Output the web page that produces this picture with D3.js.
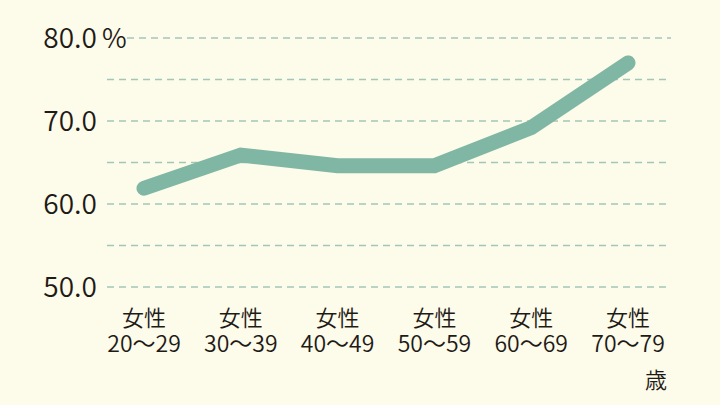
<!DOCTYPE html>
<html>
<head>
    <meta charset="utf-8">
    <title>Line</title>
    <script src="https://cdn.jsdelivr.net/npm/d3@7"></script>
    <style>
        body { margin: 0; background: #fdfbea; }
        text { font-family: "Noto Sans CJK JP", "Noto Sans", sans-serif; fill: #1e1a16; font-weight: 350; }
    </style>
</head>
<body>
    <svg width="720" height="405" id="mainsvg"></svg>
    <script>
        // data
        const groups = ['20〜29', '30〜39', '40〜49', '50〜59', '60〜69', '70〜79'];
        const values = [61.9, 65.9, 64.6, 64.6, 69.2, 77.0];
        const gridValues = [50, 55, 60, 65, 70, 75, 80];
        const tickValues = [50, 60, 70, 80];

        const svg = d3.select('#mainsvg');
        svg.append('rect').attr('width', 720).attr('height', 405).attr('fill', '#fdfbea');

        const xScale = d3.scalePoint().domain(groups).range([144, 628]);
        const yScale = d3.scaleLinear().domain([50, 80]).range([287, 38]);

        // dashed grid
        svg.append('g').selectAll('line').data(gridValues).join('line')
            .attr('x1', d => d === 80 ? 127 : 107)
            .attr('x2', 671)
            .attr('y1', d => yScale(d))
            .attr('y2', d => yScale(d))
            .attr('stroke', '#a3c6b8')
            .attr('stroke-width', 1.5)
            .attr('stroke-dasharray', '7 5');

        // y tick labels
        svg.append('g').selectAll('text').data(tickValues).join('text')
            .attr('x', 97)
            .attr('y', d => yScale(d) + 10)
            .attr('text-anchor', 'end')
            .attr('font-size', 28)
            .text(d => d.toFixed(1));
        svg.append('text')
            .attr('x', 102).attr('y', yScale(80) + 10)
            .attr('font-size', 27)
            .text('%');

        // x labels
        const xl = svg.append('g').selectAll('g').data(groups).join('g')
            .attr('transform', d => `translate(${xScale(d)},0)`);
        xl.append('text').attr('y', 326).attr('text-anchor', 'middle')
            .attr('font-size', 22).text('女性');
        xl.append('text').attr('y', 352).attr('text-anchor', 'middle')
            .attr('font-size', 23).text(d => d);
        svg.append('text')
            .attr('x', xScale(groups[5]) + 39).attr('y', 388)
            .attr('text-anchor', 'end')
            .attr('font-size', 22).text('歳');

        // line
        const line = d3.line()
            .x((d, i) => xScale(groups[i]))
            .y(d => yScale(d));
        svg.append('path').datum(values)
            .attr('fill', 'none')
            .attr('stroke', '#80b7a4')
            .attr('stroke-width', 15)
            .attr('stroke-linecap', 'round')
            .attr('stroke-linejoin', 'miter')
            .attr('d', line);
    </script>
</body>
</html>
